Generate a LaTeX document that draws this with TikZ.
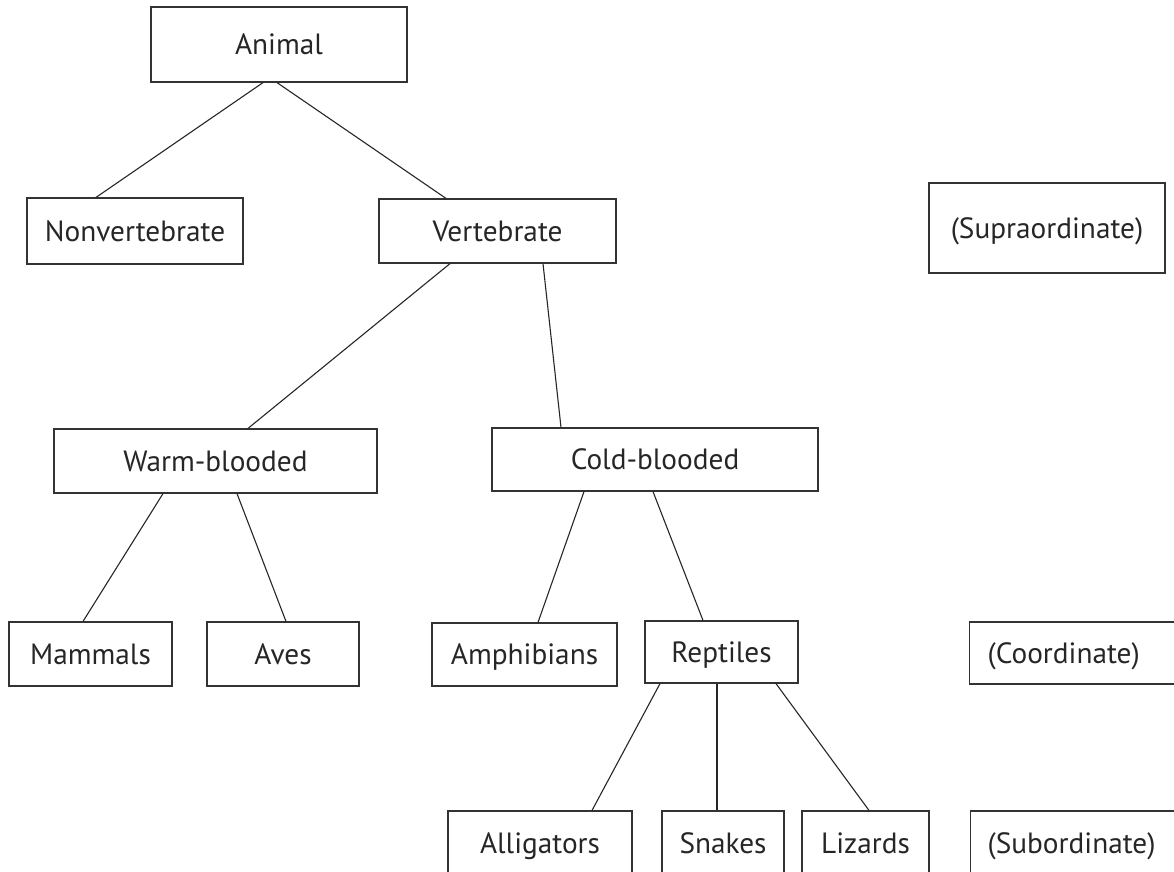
\documentclass[tikz,border=0pt]{standalone}
\usepackage{fontspec}
\setmainfont{PT Sans}
\begin{document}
\begin{tikzpicture}[x=1pt,y=-1pt,
  box/.style={draw=black!80, line width=1.2pt, rectangle, inner sep=0pt,
    font=\fontsize{29.3}{31}\selectfont, text=black!85,
    text height=20.5pt, text depth=0pt},
  link/.style={draw=black!85, line width=1.1pt}]
\useasboundingbox (0,0) rectangle (1174,871);
\clip (0,0) rectangle (1174,871);

% top level
\node[box, minimum width=256pt, minimum height=75pt] (animal) at (279,44.5) {Animal};

% second level
\node[box, minimum width=216pt, minimum height=66pt] (nonvert) at (135,231) {Nonvertebrate};
\node[box, minimum width=237pt, minimum height=64pt] (vert) at (497.5,231) {Vertebrate};
\node[box, minimum width=236pt, minimum height=90pt] (supra) at (1047,228) {(Supraordinate)};

% third level
\node[box, minimum width=323pt, minimum height=64pt] (warm) at (215.5,461) {Warm-blooded};
\node[box, minimum width=326pt, minimum height=63pt] (cold) at (655,459.5) {Cold-blooded};

% fourth level
\node[box, minimum width=163pt, minimum height=64pt] (mammals) at (90.5,654) {Mammals};
\node[box, minimum width=152pt, minimum height=64pt] (aves) at (283,654) {Aves};
\node[box, minimum width=185pt, minimum height=63pt] (amph) at (524.5,654.5) {Amphibians};
\node[box, minimum width=153pt, minimum height=62pt] (rept) at (721.5,652) {Reptiles};
\node[box, anchor=west, minimum height=62pt, text width=176pt, align=left,
      inner xsep=18pt] (coord) at (969,653) {(Coordinate)};

% fifth level
\node[box, minimum width=184pt, minimum height=65pt] (allig) at (540,843.5) {Alligators};
\node[box, minimum width=122pt, minimum height=65pt] (snakes) at (723,843.5) {Snakes};
\node[box, minimum width=127pt, minimum height=65pt] (lizards) at (865.5,843.5) {Lizards};
\node[box, anchor=west, minimum height=65pt, text width=176pt, align=left,
      inner xsep=17pt] (subord) at (970,843.5) {(Subordinate)};

% connectors
\draw[link] ([xshift=-16pt]animal.south) -- ([xshift=-39pt]nonvert.north);
\draw[link] ([xshift=-2pt]animal.south) -- ([xshift=-51.5pt]vert.north);
\draw[link] ([xshift=-47.5pt]vert.south) -- ([xshift=32.5pt]warm.north);
\draw[link] ([xshift=45.5pt]vert.south) -- ([xshift=-94pt]cold.north);
\draw[link] ([xshift=-52.5pt]warm.south) -- ([xshift=-7.5pt]mammals.north);
\draw[link] ([xshift=21.5pt]warm.south) -- ([xshift=3pt]aves.north);
\draw[link] ([xshift=-71pt]cold.south) -- ([xshift=13.5pt]amph.north);
\draw[link] ([xshift=-2pt]cold.south) -- ([xshift=-18.5pt]rept.north);
\draw[link] ([xshift=-61.5pt]rept.south) -- ([xshift=52pt]allig.north);
\draw[link] ([xshift=-4.5pt]rept.south) -- ([xshift=-6pt]snakes.north);
\draw[link] ([xshift=54.5pt]rept.south) -- ([xshift=3.5pt]lizards.north);
\end{tikzpicture}
\end{document}
